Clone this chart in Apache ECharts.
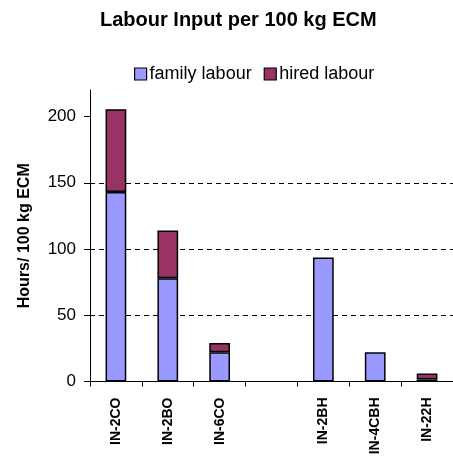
<!DOCTYPE html>
<html>
<head>
<meta charset="utf-8">
<script src="https://cdn.jsdelivr.net/npm/echarts@6/dist/echarts.min.js"></script>
<style>
  html, body { margin: 0; padding: 0; background: #fff; }
  #chart { width: 453px; height: 466px; }
</style>
</head>
<body>
<div id="chart"></div>
<script>
// Farm types (empty slot separates the two groups)
const categories = ['IN-2CO', 'IN-2BO', 'IN-6CO', '', 'IN-2BH', 'IN-4CBH', 'IN-22H'];
// Hours per 100 kg ECM
const familyLabour = [143, 78, 22, null, 93.5, 22, 1.5];
const hiredLabour = [62.5, 36, 7, null, null, null, 4.5];
const yTicks = [0, 50, 100, 150, 200];

const FONT = 'Liberation Sans, Arial, sans-serif';

const chart = echarts.init(document.getElementById('chart'), null, { renderer: 'canvas' });
chart.setOption({
  animation: false,
  backgroundColor: '#ffffff',
  title: {
    text: 'Labour Input per 100 kg ECM',
    left: 100,
    top: 10,
    padding: 0,
    textStyle: { fontFamily: FONT, fontSize: 20, fontWeight: 'bold', color: '#000' }
  },
  legend: {
    top: 65,
    left: 134,
    padding: 0,
    icon: 'rect',
    itemWidth: 12,
    itemHeight: 12,
    itemGap: 12,
    textStyle: { fontFamily: FONT, fontSize: 18, color: '#000', padding: [0, 0, 0, -2] },
    itemStyle: { borderColor: '#000', borderWidth: 1.2 },
    data: ['family labour', 'hired labour']
  },
  grid: { left: 90, right: -3, top: 90, bottom: 84.5, containLabel: false },
  xAxis: {
    type: 'category',
    data: categories,
    axisLine: { lineStyle: { color: '#000', width: 1 } },
    axisTick: { show: true, length: 5, lineStyle: { color: '#000' } },
    axisLabel: {
      rotate: 90,
      margin: 16,
      interval: 0,
      fontFamily: FONT,
      fontSize: 14,
      fontWeight: 'bold',
      color: '#000'
    }
  },
  yAxis: {
    type: 'value',
    min: 0,
    max: 220,
    interval: 50,
    name: 'Hours/ 100 kg ECM',
    nameLocation: 'middle',
    nameGap: 57,
    nameTextStyle: { fontFamily: FONT, fontSize: 16, fontWeight: 'bold', color: '#000' },
    axisLine: { show: true, lineStyle: { color: '#000', width: 1 } },
    axisTick: { show: true, length: 6, customValues: yTicks, lineStyle: { color: '#000' } },
    axisLabel: {
      customValues: yTicks,
      margin: 14,
      fontFamily: FONT,
      fontSize: 17,
      color: '#000'
    },
    splitLine: {
      show: true,
      showMinLine: false,
      showMaxLine: false,
      lineStyle: { color: '#000', type: [5, 4], width: 1 }
    }
  },
  series: [
    {
      name: 'family labour',
      type: 'bar',
      stack: 'labour',
      barWidth: '40%',
      data: familyLabour,
      itemStyle: { color: '#9999FF', borderColor: '#000', borderWidth: 1.5 }
    },
    {
      name: 'hired labour',
      type: 'bar',
      stack: 'labour',
      barWidth: '40%',
      data: hiredLabour,
      itemStyle: { color: '#993366', borderColor: '#000', borderWidth: 1.5 }
    }
  ]
});
</script>
</body>
</html>
